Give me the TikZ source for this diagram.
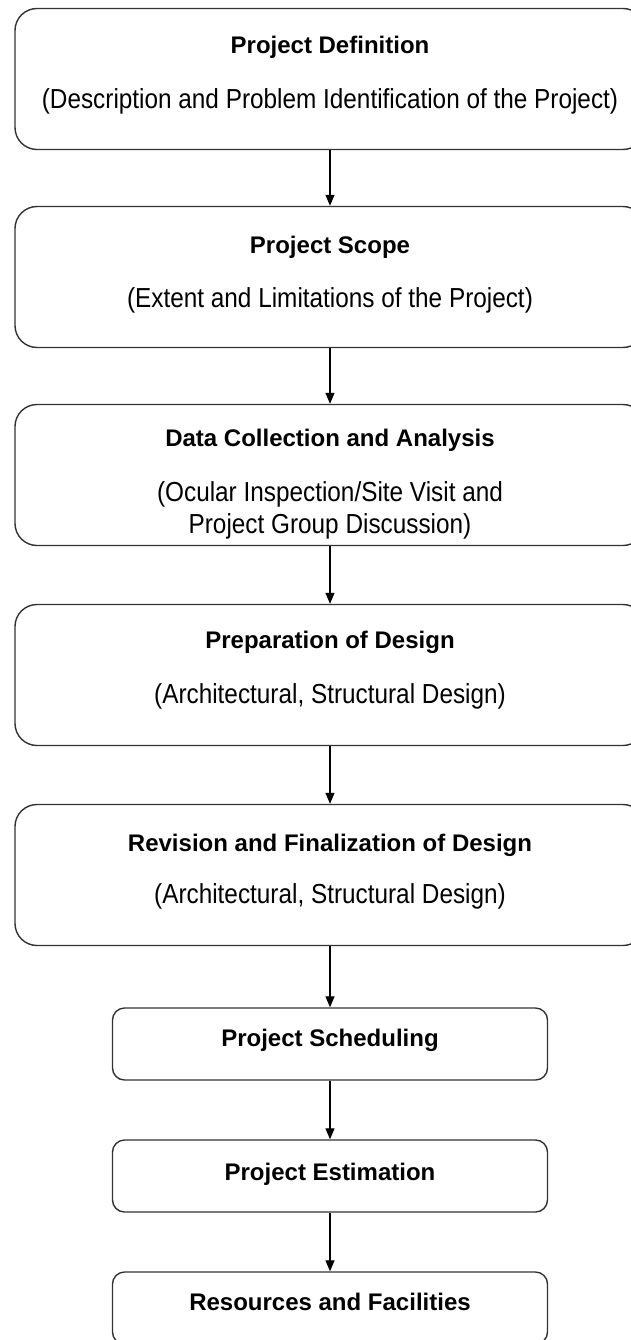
\documentclass[tikz,border=0pt]{standalone}
\usepackage{fontspec}
\setmainfont{Liberation Sans}
\newfontfamily\subfont[FakeStretch=0.885]{Liberation Sans}
\usetikzlibrary{arrows.meta,positioning}
\definecolor{edge}{HTML}{333333}
\begin{document}
\begin{tikzpicture}[x=1pt,y=-1pt,
  widebox/.style={draw=edge,line width=1.4pt,rounded corners=22pt,minimum width=630pt,minimum height=141pt,inner sep=0pt},
  smallbox/.style={draw=edge,line width=1.4pt,rounded corners=12pt,minimum width=435pt,minimum height=72pt,inner sep=0pt},
  title/.style={font=\fontsize{24}{30}\selectfont\bfseries,inner sep=0pt,anchor=base},
  sub/.style={font=\subfont\fontsize{27.5}{32}\selectfont,align=center,inner sep=0pt,anchor=base},
  flow/.style={draw=black,line width=1.2pt,-{Triangle[length=11pt,width=9pt]}}]
\useasboundingbox (0,0) rectangle (631,1340);
% main process boxes
\node[widebox] (b1) at (330,79) {};
\node[widebox] (b2) at (330,277) {};
\node[widebox] (b3) at (330,475) {};
\node[widebox] (b4) at (330,675) {};
\node[widebox] (b5) at (330,875) {};
\node[smallbox] (b6) at (330,1044) {};
\node[smallbox] (b7) at (330,1176) {};
\node[smallbox] (b8) at (330,1308) {};
% headings (placed by baseline)
\node[title] (t1) at ([yshift=-46pt]b1.north) {Project Definition};
\node[title] (t2) at ([yshift=-48pt]b2.north) {Project Scope};
\node[title] (t3) at ([yshift=-43pt]b3.north) {Data Collection and Analysis};
\node[title] (t4) at ([yshift=-45pt]b4.north) {Preparation of Design};
\node[title] (t5) at ([yshift=-48pt]b5.north) {Revision and Finalization of Design};
\node[title] (t6) at ([yshift=-39pt]b6.north) {Project Scheduling};
\node[title] (t7) at ([yshift=-41pt]b7.north) {Project Estimation};
\node[title] (t8) at ([yshift=-39pt]b8.north) {Resources and Facilities};
% descriptions (base anchor is the last line's baseline)
\node[sub] (s1) at ([yshift=-55pt]t1.base) {(Description and Problem Identification of the Project)};
\node[sub] (s2) at ([yshift=-54pt]t2.base) {(Extent and Limitations of the Project)};
\node[sub] (s3) at ([yshift=-87pt]t3.base) {(Ocular Inspection/Site Visit and\\Project Group Discussion)};
\node[sub] (s4) at ([yshift=-55pt]t4.base) {(Architectural, Structural Design)};
\node[sub] (s5) at ([yshift=-52pt]t5.base) {(Architectural, Structural Design)};
% connectors
\draw[flow] (b1) -- (b2);
\draw[flow] (b2) -- (b3);
\draw[flow] (b3) -- (b4);
\draw[flow] (b4) -- (b5);
\draw[flow] (b5) -- (b6);
\draw[flow] (b6) -- (b7);
\draw[flow] (b7) -- (b8);
\end{tikzpicture}
\end{document}
